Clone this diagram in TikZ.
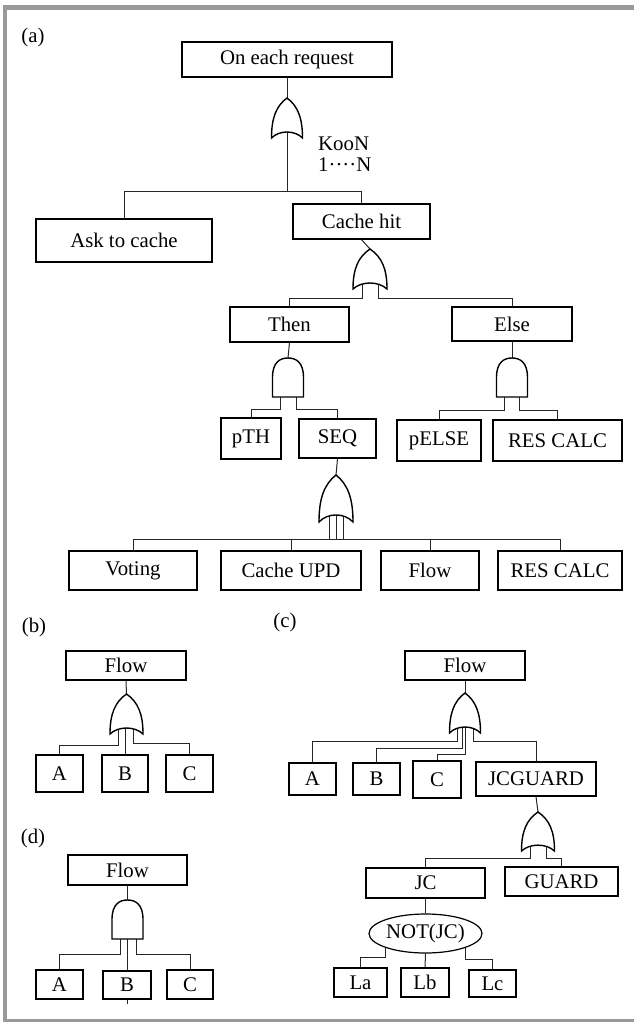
\documentclass[tikz,border=0pt]{standalone}
\usepackage{fontspec}
\setmainfont{Liberation Serif}
\usetikzlibrary{shapes.geometric}
\pgfdeclarelayer{bg}
\pgfsetlayers{bg,main}
\newcommand\myfs{\fontsize{20.8}{24}\selectfont}
\definecolor{framegray}{HTML}{999999}
\newcommand\bx[6]{%
  \node[box, minimum width={(#3)-(#2)}, minimum height={(#5)-(#4)}] (#1) at ({((#2)+(#3))/2},{((#4)+(#5))/2}) {#6};}
\tikzset{
  box/.style={draw, fill=white, line width=1.2pt, inner sep=0pt, font=\myfs},
  gate/.style={draw, fill=white, line width=1.4pt},
  conn/.style={line width=1pt, draw=black!85},
  lbl/.style={font=\myfs, inner sep=0pt},
  pics/orgate/.style 2 args={code={%
    \draw[gate] (0,0) .. controls ({0.7*#1},{0.2*#2}) and (#1,{0.5*#2}) .. (#1,#2)
      .. controls ({0.5*#1},{0.8*#2}) and ({-0.5*#1},{0.8*#2}) .. (-#1,#2)
      .. controls (-#1,{0.5*#2}) and ({-0.7*#1},{0.2*#2}) .. (0,0) -- cycle;
    \coordinate (-top) at (0,0);
    \coordinate (-b) at (0,{#2-8});
  }},
  pics/andgate/.style 2 args={code={%
    \draw[gate] (-#1,#2) -- (-#1,{0.5*#2}) .. controls (-#1,{0.1*#2}) and ({-0.5*#1},0) .. (0,0)
      .. controls ({0.5*#1},0) and (#1,{0.1*#2}) .. (#1,{0.5*#2}) -- (#1,#2) -- cycle;
    \coordinate (-top) at (0,0);
    \coordinate (-b) at (0,{#2-3});
  }},
}
\begin{document}
\begin{tikzpicture}[x=1pt,y=-1pt]
\useasboundingbox (0,0) rectangle (634,1023);
% frame
\draw[framegray, line width=5pt] (3,7.2) -- (634,7.2);
\draw[framegray, line width=3.4pt] (5,5) -- (5,1022);
\draw[framegray, line width=3.5pt] (3,1020.5) -- (634,1020.5);

% ---------------- (a) ----------------
\node[lbl] (la) at (33,37) {(a)};
\bx{req}{182}{392}{42}{77}{On each request}
\bx{ask}{36}{212}{219}{262}{Ask to cache}
\bx{hit}{293}{430}{204}{239}{Cache hit}
\bx{then}{230}{349}{307}{342}{Then}
\bx{else}{452}{572}{307}{341}{Else}
\bx{pth}{221}{281}{418}{459}{pTH}
\bx{seq}{299}{376}{419}{458}{SEQ}
\bx{pelse}{397}{481}{420}{461}{pELSE}
\bx{resa}{493}{622}{420}{461}{RES CALC}
\bx{voting}{69}{197}{551}{590}{Voting}
\bx{cupd}{221}{361}{551}{590}{Cache UPD}
\bx{flowa}{381}{479}{551}{590}{Flow}
\bx{resb}{498}{622}{551}{590}{RES CALC}
\node[lbl, anchor=west] (koon) at (318,144) {KooN};
\node[lbl, anchor=west] (oneN) at (318,165) {1····N};

\pic (g1) at (287,98) {orgate={15.5}{40}};
\pic (g2) at (370,249) {orgate={17}{40}};
\pic (g3) at (288,358) {andgate={15.5}{39}};
\pic (g4) at (512,358) {andgate={15.5}{39}};
\pic (g5) at (336,475) {orgate={17}{47}};

% ---------------- (b) ----------------
\node[lbl] (lb) at (34,627) {(b)};
\bx{flowb}{66}{186}{651}{680}{Flow}
\bx{ab}{36}{83}{755}{792}{A}
\bx{bb}{102}{148}{755}{792}{B}
\bx{cb}{166}{213}{755}{792}{C}
\pic (gb) at (126.5,694) {orgate={16.5}{40}};

% ---------------- (c) ----------------
\node[lbl] (lc) at (285,622) {(c)};
\bx{flowc}{405}{525}{651}{680}{Flow}
\bx{ac}{289}{336}{763}{795}{A}
\bx{bc}{353}{400}{763}{795}{B}
\bx{cc}{413}{461}{761}{798}{C}
\bx{jcg}{476}{596}{762}{796}{JCGUARD}
\bx{jc}{366}{485}{868}{898}{JC}
\bx{guard}{505}{618}{867}{896}{GUARD}
\node[draw, ellipse, fill=white, line width=1.2pt, inner sep=0pt, minimum width=113pt, minimum height=39pt, font=\myfs] (notjc) at (425.5,933.5) {NOT(JC)};
\bx{lac}{334}{387}{968}{997}{La}
\bx{lbc}{401}{449}{968}{997}{Lb}
\bx{lcc}{469}{516}{970}{997}{Lc}
\pic (gc) at (465,693) {orgate={15.5}{40}};
\pic (gj) at (538,812) {orgate={16.5}{39}};

% ---------------- (d) ----------------
\node[lbl] (ld) at (33,838) {(d)};
\bx{flowd}{68}{187}{855}{885}{Flow}
\bx{ad}{36}{83}{970}{999}{A}
\bx{bd}{103}{151}{971}{999}{B}
\bx{cd}{167}{213}{970}{999}{C}
\pic (gd) at (127.5,900) {andgate={15.5}{39}};

% ---------------- connectors ----------------
\begin{pgfonlayer}{bg}
% (a)
\draw[conn] (req.south) -- (g1-top);
\draw[conn] (g1-b) -- ++(0,61) coordinate (j1) -| (ask.north);
\draw[conn] (j1) -| (hit.north);
\draw[conn] (hit.south) -- (g2-top);
\draw[conn] ([xshift=-8pt]g2-b) -- ++(0,17) -| (then.north);
\draw[conn] ([xshift=8pt]g2-b) -- ++(0,17) -| (else.north);
\draw[conn] (then.south) -- (g3-top);
\draw[conn] ([xshift=-8pt]g3-b) -- ++(0,15) -| (pth.north);
\draw[conn] ([xshift=8pt]g3-b) -- ++(0,15) -| (seq.north);
\draw[conn] (else.south) -- (g4-top);
\draw[conn] ([xshift=-8pt]g4-b) -- ++(0,16) -| (pelse.north);
\draw[conn] ([xshift=7pt]g4-b) -- ++(0,16) -| (resa.north);
\draw[conn] (seq.south) -- (g5-top);
\draw[conn] (g5-b) -- ++(0,25) coordinate (j5) -| (voting.north);
\draw[conn] (j5) -| (cupd.north);
\draw[conn] (j5) -| (flowa.north);
\draw[conn] (j5) -| (resb.north);
\draw[conn] ([xshift=-7pt]g5-b) -- ++(0,25);
\draw[conn] ([xshift=7pt]g5-b) -- ++(0,25);
% (b)
\draw[conn] (flowb.south) -- (gb-top);
\draw[conn] ([xshift=-8.5pt]gb-b) -- ++(0,19) -| (ab.north);
\draw[conn] (bb.north) -- (bb.north |- gb-b);
\draw[conn] ([xshift=6.5pt]gb-b) -- ++(0,17) -| (cb.north);
% (c)
\draw[conn] (flowc.south) -- (gc-top);
\draw[conn] ([xshift=-8pt]gc-b) -- ++(0,16) -| (ac.north);
\draw[conn] ([xshift=-3pt]gc-b) -- ++(0,23) -| (bc.north);
\draw[conn] (gc-b) -- ++(0,29) -| (cc.north);
\draw[conn] ([xshift=8pt]gc-b) -- ++(0,16) -| (jcg.north);
\draw[conn] (jcg.south) -- (gj-top);
\draw[conn] ([xshift=-8pt]gj-b) -- ++(0,15) -| (jc.north);
\draw[conn] ([xshift=8pt]gj-b) -- ++(0,15) -| (guard.north);
\draw[conn] (jc.south) -- (notjc.north);
\draw[conn] (notjc.south west) -- ++(0,10) -| (lac.north);
\draw[conn] (notjc.south) -- (lbc.north);
\draw[conn] (notjc.south east) -- ++(0,12) -| (lcc.north);
% (d)
\draw[conn] (flowd.south) -- (gd-top);
\draw[conn] ([xshift=-7.5pt]gd-b) -- ++(0,18) -| (ad.north);
\draw[conn] (bd.north |- gd-b) -- ([yshift=-4pt]bd.south);
\draw[conn] ([xshift=8.5pt]gd-b) -- ++(0,18) -| (cd.north);
\end{pgfonlayer}
\end{tikzpicture}
\end{document}
